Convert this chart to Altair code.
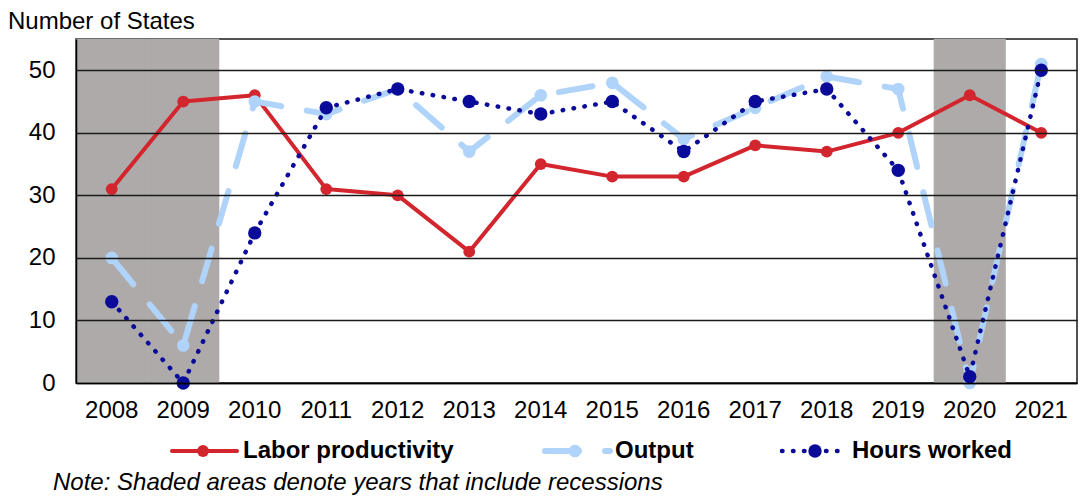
import altair as alt
import pandas as pd

years = [str(y) for y in range(2008, 2022)]
labor = [31, 45, 46, 31, 30, 21, 35, 33, 33, 38, 37, 40, 46, 40]
output = [20, 6, 45, 43, 47, 37, 46, 48, 39, 44, 49, 47, 0, 51]
hours = [13, 0, 24, 44, 47, 45, 43, 45, 37, 45, 47, 34, 1, 50]
recession_years = ["2008", "2009", "2020"]
series_names = ["Labor productivity", "Output", "Hours worked"]
y_ticks = [0, 10, 20, 30, 40, 50]

FONT = "Liberation Sans"
FS = 24
W, H = 1001, 344
RED, LBLUE, DBLUE = "#D3252D", "#B0D3FA", "#0B0B9A"
SHADE = "#AEAAAA"

df = pd.DataFrame({"year": years, "Labor productivity": labor, "Output": output, "Hours worked": hours})
rec = pd.DataFrame({"year": recession_years})

xscale = alt.Scale(type="band", domain=years, paddingInner=0, paddingOuter=0)
yscale = alt.Scale(domain=[0, 55], nice=False, zero=True)

xaxis = alt.Axis(title=None, labelAngle=0, ticks=False, domainColor="#000", domainWidth=1.5,
                 labelFont=FONT, labelFontSize=FS, labelColor="#000", labelPadding=15, zindex=1, grid=False)
yaxis = alt.Axis(title=None, values=y_ticks, ticks=False, domainColor="#000", domainWidth=1.5,
                 labelFont=FONT, labelFontSize=FS, labelColor="#000", labelPadding=21, zindex=1,
                 grid=True, gridColor="#1a1a1a", gridWidth=1.3)

base = alt.Chart(df)

shade = alt.Chart(rec).mark_rect(color=SHADE, stroke=SHADE, strokeWidth=0.6).encode(
    x=alt.X("year:N", scale=xscale, axis=xaxis),
    y=alt.value(0), y2=alt.value(H),
)

def series(name, color, width, dash, size):
    line_kwargs = dict(color=color, strokeWidth=width, strokeCap="round", strokeJoin="round")
    if dash:
        line_kwargs["strokeDash"] = dash
    line = base.mark_line(**line_kwargs).encode(
        x=alt.X("year:N", scale=xscale, axis=xaxis),
        y=alt.Y(f"{name}:Q", scale=yscale, axis=yaxis),
    )
    pts = base.mark_point(filled=True, opacity=1, color=color, size=size).encode(
        x=alt.X("year:N", scale=xscale, axis=xaxis),
        y=alt.Y(f"{name}:Q", scale=yscale, axis=yaxis),
    )
    return [line, pts]

layers = [shade]
layers += series("Labor productivity", RED, 4, None, 140)
layers += series("Output", LBLUE, 6, [34, 26], 160)
layers += series("Hours worked", DBLUE, 4.5, [0.5, 10.5], 180)

# legend (manual)
LY = 412
leg_specs = [
    ("Labor productivity", RED, 4, None, 140, 96, 161, 127, 167),
    ("Output", LBLUE, 6, [34, 26], 160, 469, 534, 499, 539),
    ("Hours worked", DBLUE, 4.5, [0.5, 10.5], 180, 706, 766, 739, 776),
]
for name, color, width, dash, size, x1, x2, xm, xt in leg_specs:
    src = alt.Chart(pd.DataFrame({"s": [name]}))
    kw = dict(color=color, strokeWidth=width, strokeCap="round")
    if dash:
        kw["strokeDash"] = dash
    layers.append(src.mark_rule(**kw).encode(x=alt.value(x1), x2=alt.value(x2), y=alt.value(LY)))
    layers.append(src.mark_point(filled=True, opacity=1, color=color, size=size).encode(
        x=alt.value(xm), y=alt.value(LY)))
    layers.append(src.mark_text(align="left", baseline="middle", font=FONT, fontSize=FS,
                                fontWeight="bold", color="#000").encode(
        x=alt.value(xt), y=alt.value(LY), text="s:N"))

title_src = alt.Chart(pd.DataFrame({"t": ["Number of States"]}))
layers.append(title_src.mark_text(align="left", baseline="top", font=FONT, fontSize=FS, color="#000").encode(
    x=alt.value(-68), y=alt.value(-29), text="t:N"))
note_src = alt.Chart(pd.DataFrame({"t": ["Note: Shaded areas denote years that include recessions"]}))
layers.append(note_src.mark_text(align="left", baseline="alphabetic", font=FONT, fontSize=FS,
                                 fontStyle="italic", color="#000").encode(
    x=alt.value(-23), y=alt.value(451), text="t:N"))

chart = alt.layer(*layers).properties(
    width=W, height=H,
    autosize=alt.AutoSizeParams(type="none"),
    padding={"left": 68, "top": 31, "right": 1, "bottom": 113},
    background="white",
).configure_view(stroke="#1a1a1a", strokeWidth=1.5)

chart.save("out.html", embed_options={"renderer": "svg", "actions": False})
